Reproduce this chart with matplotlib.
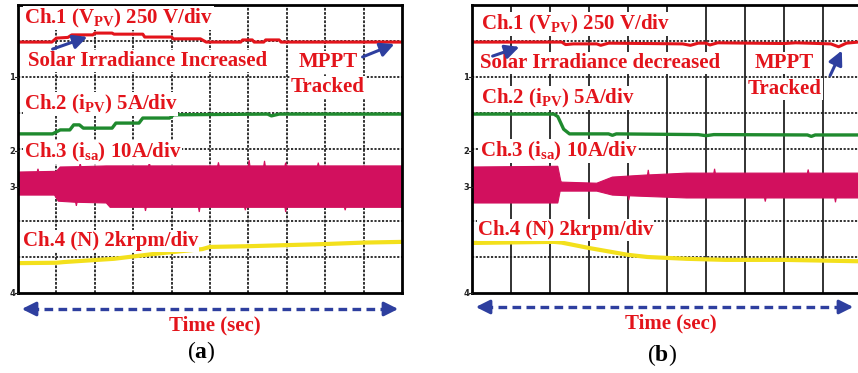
import numpy as np
import matplotlib
matplotlib.use('Agg')
import matplotlib.pyplot as plt
from matplotlib.lines import Line2D
from matplotlib.patches import FancyArrowPatch

plt.rcParams['mathtext.fontset'] = 'custom'
plt.rcParams['mathtext.bf'] = 'Liberation Serif:bold'
plt.rcParams['mathtext.rm'] = 'Liberation Serif'

W, H = 858, 373

# x in screen divisions (0-10), y in divisions from the bottom of the screen (0-8)
# (a) irradiance increased
a_v_x = [0, 0.88, 1.0, 1.3, 1.4, 1.95, 2.0, 2.45, 2.5, 3.25, 3.3, 4.0, 4.05, 4.75, 4.9,
         5.8, 5.85, 6.1, 6.15, 6.4, 6.45, 6.8, 6.85, 10]
a_v_y = [6.97, 6.97, 7.08, 7.1, 7.17, 7.17, 7.22, 7.22, 7.19, 7.19, 7.11, 7.11, 7.06, 7.06, 6.97,
         6.97, 7.03, 7.03, 6.97, 6.97, 7.03, 7.03, 6.97, 6.97]
a_i_x = [0, 0.9, 1.1, 1.35, 1.45, 1.6, 1.7, 2.45, 2.55, 3.15, 3.25, 3.95, 4.05, 6.5, 6.6, 6.8, 10]
a_i_y = [4.42, 4.42, 4.53, 4.53, 4.67, 4.67, 4.58, 4.58, 4.72, 4.72, 4.86, 4.86, 4.95, 4.97, 4.92, 4.97, 4.97]
a_isa_up_x = [0, 0.5, 0.52, 0.54, 1.0, 1.1, 1.6, 1.62, 1.64, 2.3, 3.4, 3.42, 3.44, 5.2, 5.22, 5.24,
              6.0, 6.02, 6.04, 6.4, 6.42, 6.44, 6.95, 6.97, 6.99, 7.8, 7.82, 7.84, 10]
a_isa_up_y = [3.36, 3.37, 3.45, 3.37, 3.38, 3.5, 3.51, 3.6, 3.51, 3.53, 3.53, 3.62, 3.53, 3.53, 3.63, 3.53,
              3.53, 3.69, 3.53, 3.53, 3.67, 3.53, 3.53, 3.62, 3.53, 3.53, 3.62, 3.53, 3.53]
a_isa_lo_x = [0, 0.95, 1.05, 1.5, 1.52, 1.54, 2.3, 2.4, 3.3, 3.32, 3.34, 4.7, 4.72, 4.74,
              5.9, 5.92, 5.94, 6.95, 6.97, 6.99, 8.5, 8.52, 8.54, 10]
a_isa_lo_y = [2.72, 2.72, 2.55, 2.52, 2.42, 2.52, 2.5, 2.38, 2.38, 2.28, 2.38, 2.38, 2.25, 2.38,
              2.38, 2.3, 2.38, 2.38, 2.25, 2.38, 2.38, 2.3, 2.38, 2.38]
a_n_x = [0, 1.0, 1.2, 2.5, 3.5, 4.8, 5.0, 6.0, 7.0, 8.0, 9.0, 10]
a_n_y = [0.83, 0.84, 0.86, 0.95, 1.08, 1.22, 1.28, 1.3, 1.33, 1.36, 1.4, 1.42]

# (b) irradiance decreased
b_v_x = [0, 2.3, 2.4, 2.6, 3.2, 3.3, 3.5, 5.4, 5.6, 5.8, 6.0, 6.1, 6.3, 8.0, 8.3, 9.2, 9.4, 9.6, 9.9, 10]
b_v_y = [6.97, 6.97, 6.9, 6.92, 6.92, 6.88, 6.94, 6.92, 6.88, 6.94, 6.94, 6.89, 6.95, 6.93, 6.95,
         6.92, 6.84, 6.94, 6.97, 6.97]
b_i_x = [0, 2.1, 2.2, 2.35, 2.5, 3.5, 3.6, 3.7, 5.8, 6.0, 6.2, 8.6, 8.7, 8.8, 10]
b_i_y = [4.97, 4.97, 4.9, 4.55, 4.42, 4.42, 4.38, 4.42, 4.4, 4.37, 4.4, 4.39, 4.35, 4.39, 4.39]
b_isa_up_x = [0, 2.2, 2.26, 2.28, 2.3, 3.2, 3.6, 4.5, 4.52, 4.54, 5.5, 6.2, 6.22, 6.24,
              8.6, 8.62, 8.64, 10]
b_isa_up_y = [3.5, 3.52, 3.2, 3.1, 3.08, 3.05, 3.22, 3.28, 3.42, 3.28, 3.33, 3.33, 3.45, 3.33,
              3.33, 3.43, 3.33, 3.33]
b_isa_lo_x = [0, 2.2, 2.26, 3.2, 3.6, 4.0, 4.02, 4.04, 5.5, 7.5, 7.52, 7.54, 9.3, 9.32, 9.34, 10]
b_isa_lo_y = [2.5, 2.5, 2.83, 2.83, 2.72, 2.7, 2.58, 2.7, 2.64, 2.64, 2.54, 2.64, 2.64, 2.52, 2.64, 2.64]
b_n_x = [0, 2.1, 2.3, 3.0, 4.0, 4.5, 5.5, 6.5, 8.0, 9.0, 10]
b_n_y = [1.39, 1.42, 1.4, 1.25, 1.06, 1.0, 0.95, 0.92, 0.92, 0.9, 0.88]

RED = '#e3141b'
GREEN = '#1f8a2e'
MAG = '#d2105e'
YEL = '#f3e01c'
BLUE = '#2e3f9f'

fig = plt.figure(figsize=(W / 100, H / 100), dpi=100)


def P(px, py):
    return px / W, 1 - py / H


def scope(left, right, vsolid):
    ax = fig.add_axes([left / W, (H - 293) / H, (right - left) / W, 288 / H])
    ax.set_xlim(0, 10)
    ax.set_ylim(0, 8)
    ax.set_xticks([])
    ax.set_yticks([])
    for s in ax.spines.values():
        s.set_linewidth(2.0)
        s.set_zorder(6)
    for gx in range(1, 10):
        ax.axvline(gx, color='#222222', lw=1.3, ls='-' if vsolid else (0, (1.5, 0.8)), zorder=1)
    for gy in range(1, 8):
        ax.axhline(gy, color='#222222', lw=1.3, ls=(0, (1.2, 0.9)), zorder=1)
    return ax


def traces(ax, vx, vy, ix, iy, ux, uy, lx, ly, nx, ny):
    ax.plot(vx, vy, color=RED, lw=2.2, zorder=3)
    ax.plot(ix, iy, color=GREEN, lw=2.4, zorder=3)
    ax.fill(np.r_[ux, lx[::-1]], np.r_[uy, ly[::-1]], color=MAG, lw=0.8, ec=MAG, zorder=3)
    ax.plot(nx, ny, color=YEL, lw=3.0, zorder=3)


ax_a = scope(18, 402, False)
traces(ax_a, a_v_x, a_v_y, a_i_x, a_i_y, a_isa_up_x, a_isa_up_y, a_isa_lo_x, a_isa_lo_y, a_n_x, a_n_y)
ax_b = scope(472, 862, True)
traces(ax_b, b_v_x, b_v_y, b_i_x, b_i_y, b_isa_up_x, b_isa_up_y, b_isa_lo_x, b_isa_lo_y, b_n_x, b_n_y)


def label(px, py, s, ha='left'):
    fig.text(*P(px, py), s, ha=ha, va='center', color=RED, fontsize=15, fontweight='bold',
             family='Liberation Serif', zorder=4,
             bbox=dict(fc='white', ec='none', pad=0.5))


def arrow(x0, y0, x1, y1):
    fig.add_artist(FancyArrowPatch(P(x0, y0), P(x1, y1), transform=fig.transFigure,
                                   arrowstyle='-|>,head_length=0.7,head_width=0.35',
                                   mutation_scale=12, color=BLUE, lw=2.2, zorder=5))


def time_axis(x0, x1, y):
    fig.add_artist(Line2D([(x0 + 12) / W, (x1 - 12) / W], [1 - y / H] * 2, color=BLUE, lw=2.4,
                          ls=(0, (2.6, 1.6)), transform=fig.transFigure))
    arrow(x0 + 14, y, x0 + 1, y)
    arrow(x1 - 14, y, x1 - 1, y)


# panel (a) annotations
label(24, 18, r'Ch.1 ($\mathbf{V_{PV}}$) 250 V/div')
label(28, 61, 'Solar Irradiance Increased')
label(328, 62, 'MPPT', ha='center')
label(328, 87, 'Tracked', ha='center')
label(24, 104, r'Ch.2 ($\mathbf{i_{PV}}$) 5A/div')
label(24, 152, r'Ch.3 ($\mathbf{i_{sa}}$) 10A/div')
label(23, 241, 'Ch.4 (N) 2krpm/div')
arrow(50, 50, 90, 36)
arrow(360, 58, 397, 43)
time_axis(18, 402, 309)
fig.text(*P(215, 325), 'Time (sec)', ha='center', va='center', color=RED, fontsize=15,
         fontweight='bold', family='Liberation Serif')
fig.text(*P(201, 352), r'($\mathbf{a}$)', ha='center', va='center', color='black', fontsize=17,
         family='Liberation Serif')

# panel (b) annotations
label(481, 24, r'Ch.1 ($\mathbf{V_{PV}}$) 250 V/div')
label(480, 63, 'Solar Irradiance decreased')
label(784, 63, 'MPPT', ha='center')
label(785, 89, 'Tracked', ha='center')
label(481, 98, r'Ch.2 ($\mathbf{i_{PV}}$) 5A/div')
label(480, 151, r'Ch.3 ($\mathbf{i_{sa}}$) 10A/div')
label(478, 230, 'Ch.4 (N) 2krpm/div')
arrow(490, 57, 522, 46)
arrow(829, 78, 843, 48)
time_axis(472, 857, 307)
fig.text(*P(671, 323), 'Time (sec)', ha='center', va='center', color=RED, fontsize=15,
         fontweight='bold', family='Liberation Serif')
fig.text(*P(662, 355), r'($\mathbf{b}$)', ha='center', va='center', color='black', fontsize=17,
         family='Liberation Serif')

# channel reference markers on the left edge of each screen
for left in (18, 472):
    for ch, py in [('1', 77), ('2', 151), ('3', 187), ('4', 293)]:
        fig.text(*P(left - 6, py), ch, ha='center', va='center', fontsize=6, fontweight='bold',
                 color='#222222')
        fig.add_artist(Line2D([(left - 3) / W, left / W], [1 - py / H] * 2, color='#222222',
                              lw=0.8, transform=fig.transFigure))

fig.savefig('out.png', dpi=100)
